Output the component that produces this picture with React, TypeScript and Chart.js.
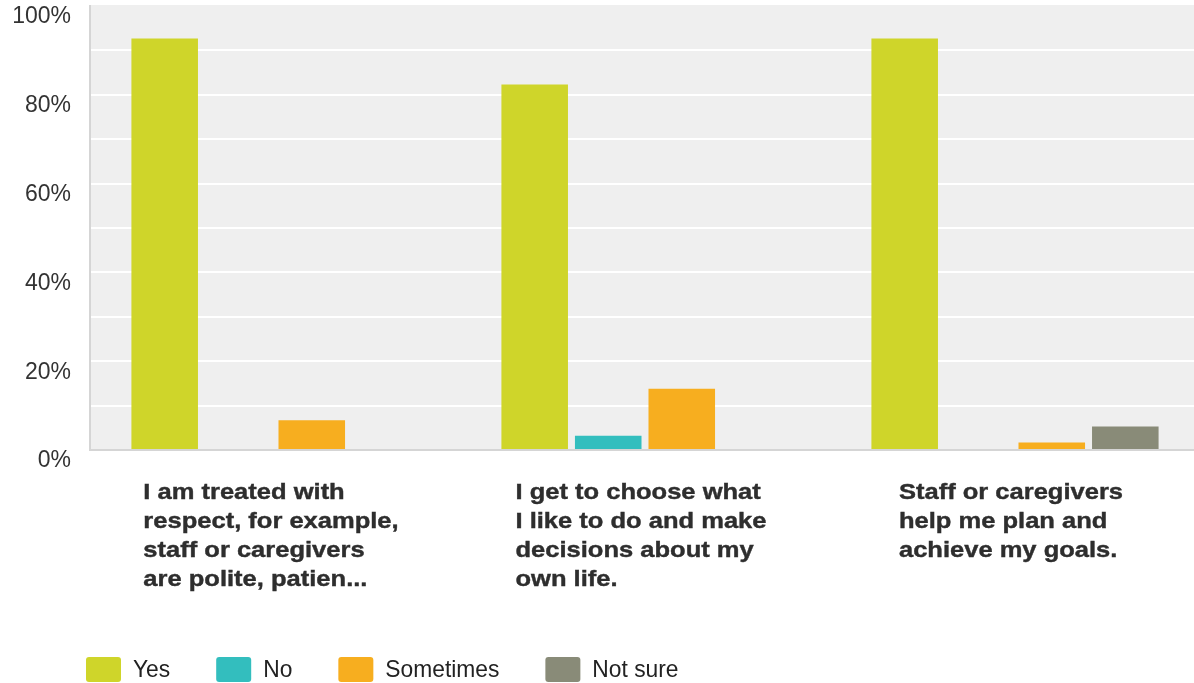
import React, { useEffect, useRef } from 'react';
import { Chart, registerables } from 'chart.js';

Chart.register(...registerables);

const categories: string[][] = [
  ['I am treated with', 'respect, for example,', 'staff or caregivers', 'are polite, patien...'],
  ['I get to choose what', 'I like to do and make', 'decisions about my', 'own life.'],
  ['Staff or caregivers', 'help me plan and', 'achieve my goals.'],
];
const seriesNames = ['Yes', 'No', 'Sometimes', 'Not sure'];
const seriesColors = ['#cfd52a', '#33bebe', '#f7ae1f', '#898b78'];
const yesValues = [92.7, 82.3, 92.7];
const noValues = [0, 3.2, 0];
const sometimesValues = [6.7, 13.8, 1.7];
const notSureValues = [0, 0, 5.3];
const yLabelValues = [0, 20, 40, 60, 80, 100];

const FONT = '"Liberation Sans", Arial, Helvetica, sans-serif';
const XFONT = 22;
const XSCALE = 1.16;
const LFONT = 24;
const LSCALE = 0.95;

const customDraw = {
  id: 'customDraw',
  beforeDraw(chart: any) {
    const { ctx, chartArea: a } = chart;
    ctx.save();
    ctx.fillStyle = '#efefef';
    ctx.fillRect(a.left, a.top - 1, a.right - a.left, a.bottom - a.top + 1);
    ctx.restore();
  },
  afterDraw(chart: any) {
    const { ctx, chartArea: a } = chart;
    const xs = chart.scales.x;
    ctx.save();
    ctx.font = `bold ${XFONT}px ${FONT}`;
    ctx.fillStyle = '#2e2e2e';
    ctx.strokeStyle = '#2e2e2e';
    ctx.lineWidth = 0.4;
    ctx.textAlign = 'left';
    ctx.textBaseline = 'alphabetic';
    categories.forEach((lines, i) => {
      const cx = xs.getPixelForValue(i);
      const maxW = Math.max(...lines.map((l) => ctx.measureText(l).width)) * XSCALE;
      const x0 = cx - maxW / 2 - 4;
      lines.forEach((l, j) => {
        ctx.save();
        ctx.translate(x0, a.bottom + 49 + j * 29);
        ctx.scale(XSCALE, 1);
        ctx.fillText(l, 0, 0);
        ctx.strokeText(l, 0, 0);
        ctx.restore();
      });
    });
    // legend
    ctx.font = `${LFONT}px ${FONT}`;
    let x = 86;
    chart.data.datasets.forEach((ds: any) => {
      ctx.fillStyle = ds.backgroundColor;
      ctx.beginPath();
      (ctx as any).roundRect(x, 657, 35, 25, 3);
      ctx.fill();
      x += 35 + 12;
      ctx.fillStyle = '#222222';
      ctx.save();
      ctx.translate(x, 676.5);
      ctx.scale(LSCALE, 1);
      ctx.fillText(ds.label, 0, 0);
      ctx.restore();
      x += ctx.measureText(ds.label).width * LSCALE + 46;
    });
    ctx.restore();
  },
};

export default function App() {
  const ref = useRef<HTMLCanvasElement | null>(null);
  useEffect(() => {
    document.body.style.margin = '0';
    const canvas = ref.current!;
    const valueSets = [yesValues, noValues, sometimesValues, notSureValues];
    const chart = new Chart(canvas, {
      type: 'bar',
      data: {
        labels: categories.map((c) => c.join(' ')),
        datasets: seriesNames.map((name, i) => ({
          label: name,
          data: valueSets[i],
          backgroundColor: seriesColors[i],
          borderWidth: 0,
          categoryPercentage: 0.795,
          barPercentage: 0.905,
        })),
      },
      options: {
        responsive: false,
        animation: false,
        layout: { padding: { top: 6, left: 0, right: 0, bottom: 0 } },
        plugins: {
          legend: { display: false },
          tooltip: { enabled: false },
        },
        scales: {
          x: {
            type: 'category',
            ticks: { display: false },
            grid: { display: false, drawTicks: false },
            border: { color: '#d5d5d5', width: 2 },
            afterFit: (s: any) => {
              s.height = 233;
              s.paddingLeft = 0;
              s.paddingRight = 0;
            },
          },
          y: {
            min: 0,
            max: 100,
            ticks: {
              stepSize: 10,
              padding: 19,
              labelOffset: 11,
              color: '#333333',
              font: { family: FONT, size: 23 },
              callback: (v: any) => (yLabelValues.includes(Number(v)) ? `${v}%` : ''),
            },
            grid: {
              drawTicks: false,
              lineWidth: 2,
              color: (c: any) => (c.tick && c.tick.value === 100 ? 'rgba(0,0,0,0)' : '#ffffff'),
            },
            border: { color: '#d5d5d5', width: 2 },
            afterFit: (s: any) => {
              s.width = 90;
              s.paddingTop = 0;
              s.paddingBottom = 0;
            },
          },
        },
      },
      plugins: [customDraw],
    });
    return () => chart.destroy();
  }, []);
  return (
    <div style={{ position: 'fixed', left: 0, top: 0, width: 1194, height: 683, overflow: 'hidden', background: '#fff' }}>
      <canvas ref={ref} width={1200} height={683} style={{ display: 'block', width: 1200, height: 683 }} />
    </div>
  );
}
